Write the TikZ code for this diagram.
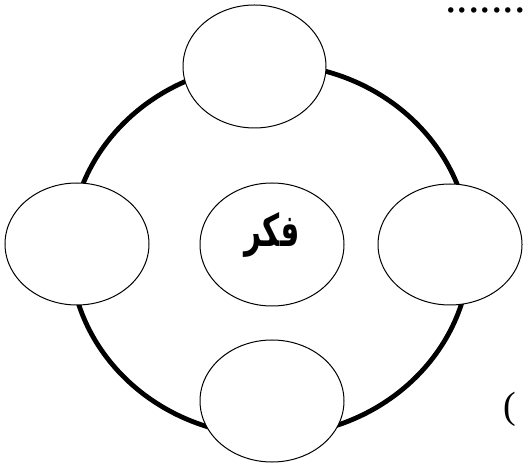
\documentclass[tikz,border=0pt]{standalone}
\usepackage{fontspec}
\setmainfont{Liberation Serif}
\newfontfamily\arabicfont[Script=Arabic]{DejaVu Sans}
\TeXXeTstate=1
\begin{document}
\begin{tikzpicture}[x=1pt,y=1pt,
  bubble/.style={draw=black,line width=1pt,fill=white},
  ring/.style={draw=black,line width=4.8pt}]
\useasboundingbox (0,0) rectangle (524,463);
\draw[ring] (270,213) ellipse [x radius=200, y radius=186];
\draw[bubble] (254.5,396.5) ellipse [x radius=71.5, y radius=61.5];
\draw[bubble] (77,219) ellipse [x radius=72, y radius=61];
\draw[bubble] (450,218.5) ellipse [x radius=72, y radius=60.5];
\draw[bubble] (272,62) ellipse [x radius=72, y radius=61];
\draw[bubble] (272,218.5) ellipse [x radius=72, y radius=61.5];
\node[inner sep=0pt,xscale=0.92,yscale=1.4,transform shape] (c) at (272,228) {\fontsize{32}{34}\selectfont\arabicfont\bfseries\beginR فكر\endR};
\node[inner sep=0pt,anchor=base west] (dots) at (445,450) {\fontsize{46}{48}\selectfont ........};
\node[inner sep=0pt,anchor=base west] (par) at (503,44.5) {\fontsize{38}{40}\selectfont (};
\end{tikzpicture}
\end{document}
